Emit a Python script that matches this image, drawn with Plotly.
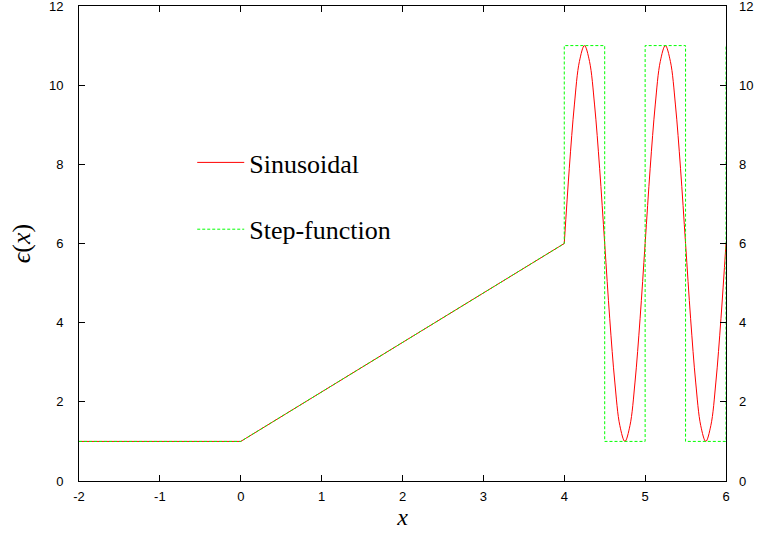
import plotly.graph_objects as go

# Sinusoidal series
sin_x = [-2, 0, 4,
         4.0625, 4.125, 4.1875, 4.25, 4.3125, 4.375, 4.4375, 4.5,
         4.5625, 4.625, 4.6875, 4.75, 4.8125, 4.875, 4.9375, 5.0,
         5.0625, 5.125, 5.1875, 5.25, 5.3125, 5.375, 5.4375, 5.5,
         5.5625, 5.625, 5.6875, 5.75, 5.8125, 5.875, 5.9375, 6.0]
sin_y = [1, 1, 6,
         7.9, 9.5, 10.6, 11, 10.6, 9.5, 7.9, 6,
         4.1, 2.5, 1.4, 1, 1.4, 2.5, 4.1, 6,
         7.9, 9.5, 10.6, 11, 10.6, 9.5, 7.9, 6,
         4.1, 2.5, 1.4, 1, 1.4, 2.5, 4.1, 6]

# Step-function series
step_x = [-2, 0, 4, 4, 4.5, 4.5, 5, 5, 5.5, 5.5, 6, 6]
step_y = [1, 1, 6, 11, 11, 1, 1, 11, 11, 1, 1, 11]

x_ticks = [-2, -1, 0, 1, 2, 3, 4, 5, 6]
y_ticks = [0, 2, 4, 6, 8, 10, 12]

fig = go.Figure()
fig.add_trace(go.Scatter(x=sin_x[:3], y=sin_y[:3], mode="lines",
                         line=dict(color="#ff0000", width=1),
                         name="Sinusoidal", legendgroup="a", showlegend=True))
fig.add_trace(go.Scatter(x=sin_x[2:], y=sin_y[2:], mode="lines",
                         line=dict(color="#ff0000", width=1, shape="spline", smoothing=1),
                         name="Sinusoidal", legendgroup="a", showlegend=False))
fig.add_trace(go.Scatter(x=step_x, y=step_y, mode="lines",
                         line=dict(color="#00ff00", width=1, dash="3px,2px"),
                         name="Step-function", legendgroup="b", showlegend=True))
fig.add_trace(go.Scatter(x=[None], y=[None], yaxis="y2", showlegend=False, hoverinfo="skip"))

tickfont = dict(family="Liberation Sans, Arial, sans-serif", size=13, color="black")
serif = "Liberation Serif, Times New Roman, serif"
fig.update_layout(
    width=758, height=533,
    margin=dict(l=79, r=32, t=6, b=52, autoexpand=False),
    plot_bgcolor="white", paper_bgcolor="white",
    showlegend=True,
    legend=dict(x=0.175, y=0.6, xanchor="left", yanchor="middle",
                bgcolor="rgba(0,0,0,0)", tracegroupgap=30,
                font=dict(family=serif, size=26, color="black"),
                itemwidth=47),
    xaxis=dict(range=[-2, 6], tickvals=x_ticks, ticktext=[str(v) for v in x_ticks],
               ticks="inside", ticklen=6, tickcolor="black", showgrid=False, zeroline=False,
               showline=True, linecolor="black", linewidth=1, mirror="ticks",
               tickfont=tickfont, ticklabelstandoff=3, automargin=False,
               ticklabeloverflow="allow",
               title=dict(text="<i>x</i>", font=dict(family=serif, size=24, color="black"),
                          standoff=3)),
    yaxis=dict(range=[0, 12], tickvals=y_ticks, ticktext=[str(v) for v in y_ticks],
               ticks="inside", ticklen=6, tickcolor="black", showgrid=False, zeroline=False,
               showline=True, linecolor="black", linewidth=1, mirror=True,
               tickfont=tickfont, ticklabelstandoff=12, automargin=False,
               ticklabeloverflow="allow",
               title=dict(text="<i>ϵ</i>(<i>x</i>)", font=dict(family=serif, size=26, color="black"),
                          standoff=10)),
    yaxis2=dict(range=[0, 12], tickvals=y_ticks, ticktext=[str(v) for v in y_ticks],
                overlaying="y", side="right", anchor="x",
                ticks="inside", ticklen=6, tickcolor="black", showgrid=False, zeroline=False,
                showline=False, tickfont=tickfont, ticklabelstandoff=12, automargin=False,
                ticklabeloverflow="allow"),
)

fig.write_html("out.html",
               config={"displayModeBar": False},
               post_script="document.body.style.margin='0px';document.body.style.overflow='hidden';")
